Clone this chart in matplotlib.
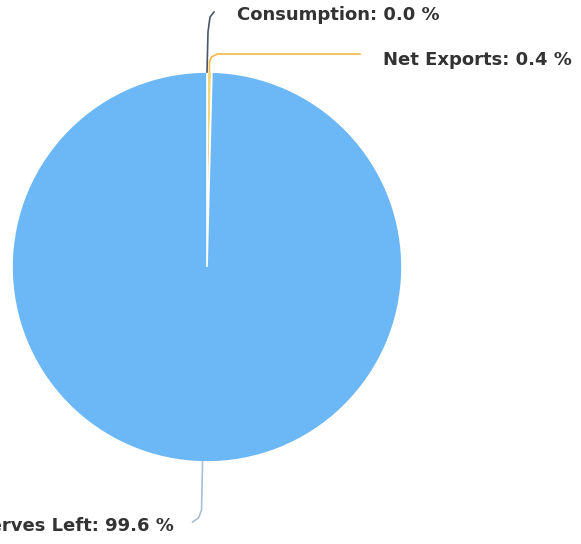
import numpy as np
import matplotlib.pyplot as plt

labels = ["Consumption", "Net Exports", "Reserves Left"]
shares = [0.0, 0.4, 99.6]
colors = ["#434348", "#f2d77a", "#6cb8f6"]
line_colors = ["#4a5568", "#f5b942", "#a9bfd6"]

plt.rcParams["font.family"] = ["DejaVu Sans"]

fig = plt.figure(figsize=(5.81, 5.44), dpi=100)
ax = fig.add_axes([0, 0, 1, 1])

cx, cy, r = 207, 267, 195
# y axis is inverted below, so start at -90 and go "counterclockwise" in data
wedges, _ = ax.pie(shares, colors=colors, startangle=-90, counterclock=True,
                   center=(cx, cy), radius=r, frame=True,
                   wedgeprops=dict(edgecolor="white", linewidth=1.2))
ax.set_xlim(0, 581)
ax.set_ylim(544, 0)
ax.axis("off")


def edge_point(w):
    mid = np.deg2rad((w.theta1 + w.theta2) / 2)
    return cx + r * np.cos(mid), cy + r * np.sin(mid)


txt = dict(fontsize=13, fontweight="bold", color="#333333", va="center")

# Consumption
x0, y0 = edge_point(wedges[0])
ax.plot([x0, x0 + 1, x0 + 3, x0 + 7], [y0, y0 - 40, y0 - 55, y0 - 60],
        color=line_colors[0], lw=1.2)
ax.text(237, 15, f"{labels[0]}: {shares[0]:.1f} %", ha="left", **txt)

# Net Exports
x1, y1 = edge_point(wedges[1])
ax.plot([x1, x1, x1 + 2, x1 + 8, 360], [y1, y1 - 10, y1 - 15, y1 - 18, y1 - 18],
        color=line_colors[1], lw=1.2)
ax.text(383, 60, f"{labels[1]}: {shares[1]:.1f} %", ha="left", **txt)

# Reserves Left (cut off at the left edge, as in the source)
x2, y2 = edge_point(wedges[2])
ax.plot([x2 - 2, x2 - 3, x2 - 6, x2 - 12], [y2, y2 + 48, y2 + 56, y2 + 60],
        color=line_colors[2], lw=1.2)
ax.text(174, 526, f"{labels[2]}: {shares[2]:.1f} %", ha="right", **txt)

fig.savefig("out.png", dpi=100, facecolor="white")
